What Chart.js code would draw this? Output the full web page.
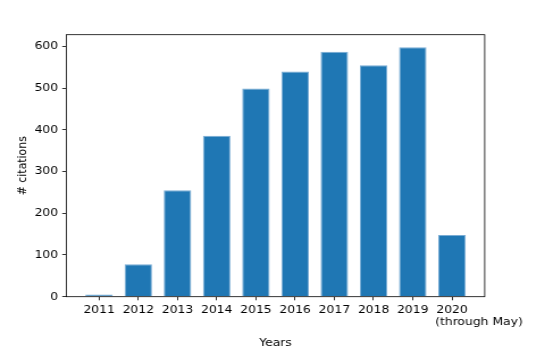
<!DOCTYPE html>
<html>
<head>
<meta charset="utf-8">
<script src="https://cdn.jsdelivr.net/npm/chart.js@4"></script>
<style>
  html, body { margin: 0; padding: 0; background: #fff; overflow: hidden; }
  /* the reference is a 480-wide figure stretched to 545 wide */
  #wrap { width: 480px; height: 359px; transform: scaleX(1.13542); transform-origin: 0 0; }
</style>
</head>
<body>
<div id="wrap"><canvas id="citationsChart" width="480" height="359"></canvas></div>
<script>
const years = ['2011', '2012', '2013', '2014', '2015', '2016', '2017', '2018', '2019', '2020'];
const citations = [5, 78, 255, 386, 499, 540, 587, 555, 598, 148];
const yTicks = [0, 100, 200, 300, 400, 500, 600];
const lastYearNote = '(through May)';

const FONT = { family: 'DejaVu Sans', size: 10.9 };

// frame round the plot area + second line under the last year
const framePlugin = {
  id: 'frame',
  afterDraw(chart) {
    const { ctx, chartArea } = chart;
    ctx.save();
    ctx.strokeStyle = '#000';
    ctx.lineWidth = 0.8;
    ctx.strokeRect(chartArea.left, chartArea.top, chartArea.right - chartArea.left, chartArea.bottom - chartArea.top);

    const xScale = chart.scales.x;
    const px = xScale.getPixelForValue(years.length - 1);
    ctx.font = FONT.size + 'px "' + FONT.family + '"';
    ctx.fillStyle = '#000';
    ctx.textAlign = 'left';
    ctx.textBaseline = 'top';
    const w = ctx.measureText(years[years.length - 1]).width;
    ctx.fillText(lastYearNote, px - w / 2 - 1, chartArea.bottom + 7.2 + 13);
    ctx.restore();
  }
};

const canvas = document.getElementById('citationsChart');
new Chart(canvas, {
  type: 'bar',
  data: {
    datasets: [{
      data: citations.map((v, i) => ({ x: i, y: v })),
      backgroundColor: '#1f77b4',
      borderColor: '#79acd4',
      borderWidth: 1,
      categoryPercentage: 0.7,
      barPercentage: 1.0,
    }],
  },
  options: {
    responsive: false,
    animation: false,
    devicePixelRatio: 1,
    layout: { padding: { top: 34.7, right: 53.1, left: 0, bottom: 0 } },
    plugins: {
      legend: { display: false },
      tooltip: { enabled: false },
    },
    scales: {
      x: {
        type: 'linear',
        min: -0.835,
        max: 9.835,
        offset: false,
        afterBuildTicks: (scale) => { scale.ticks = years.map((_, i) => ({ value: i })); },
        afterFit: (scale) => { scale.height = 62.3; },
        ticks: {
          autoSkip: false,
          maxRotation: 0,
          padding: 3.6,
          color: '#000',
          font: FONT,
          callback: (value) => years[value],
        },
        grid: { drawOnChartArea: false, drawTicks: true, tickLength: 3.6, color: '#000', lineWidth: 0.8, offset: false },
        border: { display: false },
        title: { display: true, text: 'Years', color: '#000', font: FONT, padding: { top: 0, bottom: 9.2 } },
      },
      y: {
        min: 0,
        max: 628,
        afterBuildTicks: (scale) => { scale.ticks = yTicks.map(v => ({ value: v })); },
        afterFit: (scale) => { scale.width = 58.4; },
        ticks: { padding: 3.6, color: '#000', font: FONT },
        grid: { drawOnChartArea: false, drawTicks: true, tickLength: 3.6, color: '#000', lineWidth: 0.8 },
        border: { display: false },
        title: { display: true, text: '# citations', color: '#000', font: FONT, padding: { top: 13.8, bottom: 0 } },
      },
    },
  },
  plugins: [framePlugin],
});
</script>
</body>
</html>
